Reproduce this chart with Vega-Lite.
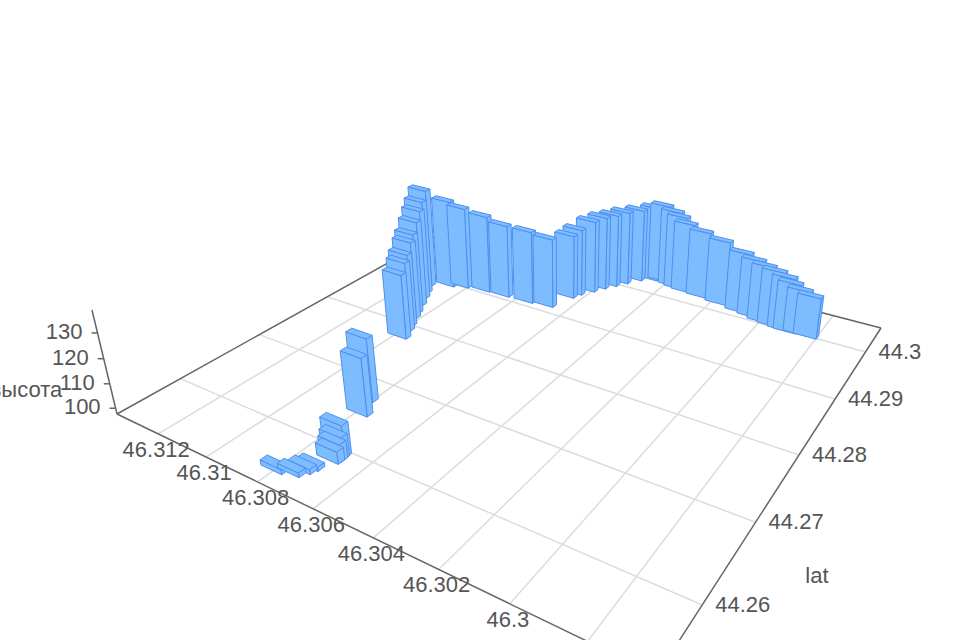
{
"$schema":"https://vega.github.io/schema/vega-lite/v6.json",
"width":960,"height":640,"padding":0,"autosize":{"type":"none"},"background":"white",
"config":{"view":{"stroke":null},"text":{"font":"Liberation Sans","fontSize":22,"fill":"#555555"}},
"datasets":{
"bars":[
{"bar":34,"lon":46.30475,"lat":44.30352,"height":131.9},
{"bar":35,"lon":46.3044,"lat":44.30391,"height":133.2},
{"bar":33,"lon":46.30523,"lat":44.30259,"height":130.9},
{"bar":36,"lon":46.30389,"lat":44.30336,"height":132.5},
{"bar":32,"lon":46.30555,"lat":44.30104,"height":131.2},
{"bar":37,"lon":46.3036,"lat":44.30304,"height":131.4},
{"bar":31,"lon":46.3058,"lat":44.2998,"height":130.9},
{"bar":38,"lon":46.30327,"lat":44.30278,"height":129.4},
{"bar":30,"lon":46.30604,"lat":44.29857,"height":131.0},
{"bar":39,"lon":46.30264,"lat":44.30256,"height":127.8},
{"bar":29,"lon":46.30626,"lat":44.29725,"height":130.4},
{"bar":28,"lon":46.30654,"lat":44.29583,"height":127.9},
{"bar":21,"lon":46.31084,"lat":44.28982,"height":137.5},
{"bar":22,"lon":46.31034,"lat":44.29048,"height":134.7},
{"bar":20,"lon":46.31158,"lat":44.28867,"height":142.1},
{"bar":40,"lon":46.30184,"lat":44.30215,"height":126.5},
{"bar":23,"lon":46.30949,"lat":44.29094,"height":132.7},
{"bar":27,"lon":46.30666,"lat":44.29472,"height":126.4},
{"bar":24,"lon":46.30867,"lat":44.29108,"height":130.6},
{"bar":41,"lon":46.301,"lat":44.30158,"height":124.4},
{"bar":19,"lon":46.31134,"lat":44.28705,"height":139.8},
{"bar":25,"lon":46.3077,"lat":44.29126,"height":130.3},
{"bar":42,"lon":46.3005,"lat":44.30121,"height":123.3},
{"bar":18,"lon":46.31114,"lat":44.28584,"height":137.9},
{"bar":26,"lon":46.30693,"lat":44.29165,"height":128.7},
{"bar":43,"lon":46.30007,"lat":44.30073,"height":122.7},
{"bar":44,"lon":46.29967,"lat":44.30046,"height":122.1},
{"bar":17,"lon":46.3109,"lat":44.28434,"height":135.7},
{"bar":45,"lon":46.29928,"lat":44.3002,"height":121.1},
{"bar":46,"lon":46.29906,"lat":44.30013,"height":119.3},
{"bar":47,"lon":46.29873,"lat":44.30028,"height":117.0},
{"bar":48,"lon":46.29837,"lat":44.30023,"height":115.6},
{"bar":16,"lon":46.31065,"lat":44.28273,"height":133.3},
{"bar":15,"lon":46.31049,"lat":44.28171,"height":131.8},
{"bar":14,"lon":46.31026,"lat":44.28019,"height":129.4},
{"bar":13,"lon":46.3101,"lat":44.27922,"height":127.9},
{"bar":12,"lon":46.30988,"lat":44.27777,"height":125.7},
{"bar":11,"lon":46.30831,"lat":44.26711,"height":123.6},
{"bar":10,"lon":46.30795,"lat":44.2651,"height":121.2},
{"bar":9,"lon":46.30715,"lat":44.25956,"height":110.2},
{"bar":8,"lon":46.30713,"lat":44.25925,"height":106.3},
{"bar":7,"lon":46.30711,"lat":44.25896,"height":104.4},
{"bar":6,"lon":46.30712,"lat":44.25862,"height":102.4},
{"bar":4,"lon":46.30736,"lat":44.25702,"height":99.2},
{"bar":3,"lon":46.30744,"lat":44.25637,"height":99.6},
{"bar":1,"lon":46.30808,"lat":44.25512,"height":99.6},
{"bar":2,"lon":46.3076,"lat":44.2556,"height":99.4}
],
"grid":[
{"lon0":46.312,"lat0":44.25301,"lon1":46.312,"lat1":44.30576},
{"lon0":46.31,"lat0":44.25301,"lon1":46.31,"lat1":44.30576},
{"lon0":46.308,"lat0":44.25301,"lon1":46.308,"lat1":44.30576},
{"lon0":46.306,"lat0":44.25301,"lon1":46.306,"lat1":44.30576},
{"lon0":46.304,"lat0":44.25301,"lon1":46.304,"lat1":44.30576},
{"lon0":46.302,"lat0":44.25301,"lon1":46.302,"lat1":44.30576},
{"lon0":46.3,"lat0":44.25301,"lon1":46.3,"lat1":44.30576},
{"lon0":46.298,"lat0":44.25301,"lon1":46.298,"lat1":44.30576},
{"lon0":46.31384,"lat0":44.26,"lon1":46.29636,"lat1":44.26},
{"lon0":46.31384,"lat0":44.27,"lon1":46.29636,"lat1":44.27},
{"lon0":46.31384,"lat0":44.28,"lon1":46.29636,"lat1":44.28},
{"lon0":46.31384,"lat0":44.29,"lon1":46.29636,"lat1":44.29},
{"lon0":46.31384,"lat0":44.3,"lon1":46.29636,"lat1":44.3}
],
"edges":[
{"lon0":46.31384,"lat0":44.25301,"h0":97.6,"lon1":46.29636,"lat1":44.25301,"h1":97.6},
{"lon0":46.29636,"lat0":44.25301,"h0":97.6,"lon1":46.29636,"lat1":44.30576,"h1":97.6},
{"lon0":46.29636,"lat0":44.30576,"h0":97.6,"lon1":46.31384,"lat1":44.30576,"h1":97.6},
{"lon0":46.31384,"lat0":44.30576,"h0":97.6,"lon1":46.31384,"lat1":44.25301,"h1":97.6},
{"lon0":46.31384,"lat0":44.25301,"h0":97.6,"lon1":46.31384,"lat1":44.25301,"h1":138.7}
]
},
"layer":[
{"data":{"name":"grid"},
 "transform":[
  {"calculate":"(46.31384-datum.lon0)/0.01748","as":"u0"},{"calculate":"(datum.lat0-44.25301)/0.05275","as":"v0"},
  {"calculate":"(46.31384-datum.lon1)/0.01748","as":"u1"},{"calculate":"(datum.lat1-44.25301)/0.05275","as":"v1"},
  {"calculate":"(344.1*datum.u0+561.2*datum.v0+117)/(1-0.2982*datum.u0+0.4586*datum.v0)","as":"x0"},
  {"calculate":"(59.7*datum.u0-93.1*datum.v0+414)/(1-0.2982*datum.u0+0.4586*datum.v0)","as":"y0"},
  {"calculate":"(344.1*datum.u1+561.2*datum.v1+117)/(1-0.2982*datum.u1+0.4586*datum.v1)","as":"x1"},
  {"calculate":"(59.7*datum.u1-93.1*datum.v1+414)/(1-0.2982*datum.u1+0.4586*datum.v1)","as":"y1"}],
 "mark":{"type":"rule","stroke":"#dcdcdc","strokeWidth":1.5,"clip":true},
 "encoding":{
  "x":{"field":"x0","type":"quantitative","scale":{"domain":[0,960],"nice":false,"zero":false},"axis":null},
  "y":{"field":"y0","type":"quantitative","scale":{"domain":[640,0],"nice":false,"zero":false},"axis":null},
  "x2":{"field":"x1"},"y2":{"field":"y1"}}},
{"data":{"name":"edges"},
 "transform":[
  {"calculate":"(46.31384-datum.lon0)/0.01748","as":"u0"},{"calculate":"(datum.lat0-44.25301)/0.05275","as":"v0"},{"calculate":"(datum.h0-97.6)/41.1","as":"z0"},
  {"calculate":"(46.31384-datum.lon1)/0.01748","as":"u1"},{"calculate":"(datum.lat1-44.25301)/0.05275","as":"v1"},{"calculate":"(datum.h1-97.6)/41.1","as":"z1"},
  {"calculate":"(344.1*datum.u0+561.2*datum.v0-29.9*datum.z0+117)/(1-0.2982*datum.u0+0.4586*datum.v0-0.0531*datum.z0)","as":"x0"},
  {"calculate":"(59.7*datum.u0-93.1*datum.v0-120.5*datum.z0+414)/(1-0.2982*datum.u0+0.4586*datum.v0-0.0531*datum.z0)","as":"y0"},
  {"calculate":"(344.1*datum.u1+561.2*datum.v1-29.9*datum.z1+117)/(1-0.2982*datum.u1+0.4586*datum.v1-0.0531*datum.z1)","as":"x1"},
  {"calculate":"(59.7*datum.u1-93.1*datum.v1-120.5*datum.z1+414)/(1-0.2982*datum.u1+0.4586*datum.v1-0.0531*datum.z1)","as":"y1"}],
 "mark":{"type":"rule","stroke":"#666666","strokeWidth":1.5,"clip":true},
 "encoding":{
  "x":{"field":"x0","type":"quantitative","scale":{"domain":[0,960],"nice":false,"zero":false},"axis":null},
  "y":{"field":"y0","type":"quantitative","scale":{"domain":[640,0],"nice":false,"zero":false},"axis":null},
  "x2":{"field":"x1"},"y2":{"field":"y1"}}},
{"data":{"name":"bars"},
 "transform":[
  {"calculate":"[0,1,2]","as":"faces"},{"flatten":["faces"],"as":["face"]},
  {"calculate":"[0,1,2,3,4]","as":"corners"},{"flatten":["corners"],"as":["corner"]},
  {"calculate":"datum.bar+'-'+datum.face","as":"key"},
  {"calculate":"[[1,1,1,1,1],[-1,1,1,-1,-1],[-1,1,1,-1,-1]][datum.face][datum.corner]","as":"su"},
  {"calculate":"[[-1,1,1,-1,-1],[-1,-1,-1,-1,-1],[-1,-1,1,1,-1]][datum.face][datum.corner]","as":"sv"},
  {"calculate":"[[0,0,1,1,0],[0,0,1,1,0],[1,1,1,1,1]][datum.face][datum.corner]","as":"sz"},
  {"calculate":"(46.31384-datum.lon)/0.01748+datum.su*0.0225","as":"u"},
  {"calculate":"(datum.lat-44.25301)/0.05275+datum.sv*0.0075","as":"v"},
  {"calculate":"datum.sz*(datum.height-97.6)/41.1","as":"z"},
  {"calculate":"1-0.2982*datum.u+0.4586*datum.v-0.0531*datum.z","as":"w"},
  {"calculate":"(344.1*datum.u+561.2*datum.v-29.9*datum.z+117)/datum.w","as":"sx"},
  {"calculate":"(59.7*datum.u-93.1*datum.v-120.5*datum.z+414)/datum.w","as":"sy"}],
 "mark":{"type":"line","fill":"#7dbcff","stroke":"#4f8fee","strokeWidth":1,"strokeJoin":"round","clip":true},
 "encoding":{
  "x":{"field":"sx","type":"quantitative","scale":{"domain":[0,960],"nice":false,"zero":false},"axis":null},
  "y":{"field":"sy","type":"quantitative","scale":{"domain":[640,0],"nice":false,"zero":false},"axis":null},
  "detail":{"field":"key","type":"nominal"},
  "order":{"field":"corner","type":"ordinal"}}},
{"data":{"values":[
  {"height":100},{"height":110},{"height":120},{"height":130}]},
 "transform":[
  {"calculate":"(datum.height-97.6)/41.1","as":"z"},
  {"calculate":"(117-29.9*datum.z)/(1-0.0531*datum.z)","as":"sx"},
  {"calculate":"(414-120.5*datum.z)/(1-0.0531*datum.z)","as":"sy"},
  {"calculate":"datum.sx-6","as":"sx2"}],
 "mark":{"type":"rule","stroke":"#666666","strokeWidth":1.5},
 "encoding":{
  "x":{"field":"sx","type":"quantitative","scale":{"domain":[0,960],"nice":false,"zero":false},"axis":null},
  "y":{"field":"sy","type":"quantitative","scale":{"domain":[640,0],"nice":false,"zero":false},"axis":null},
  "x2":{"field":"sx2"}}},
{"data":{"values":[
  {"height":100,"label":"100"},{"height":110,"label":"110"},{"height":120,"label":"120"},{"height":130,"label":"130"}]},
 "transform":[
  {"calculate":"(datum.height-97.6)/41.1","as":"z"},
  {"calculate":"(117-29.9*datum.z)/(1-0.0531*datum.z)","as":"sx"},
  {"calculate":"(414-120.5*datum.z)/(1-0.0531*datum.z)","as":"sy"}],
 "mark":{"type":"text","align":"right","baseline":"middle","dx":-15,"dy":-1},
 "encoding":{
  "x":{"field":"sx","type":"quantitative","scale":{"domain":[0,960],"nice":false,"zero":false},"axis":null},
  "y":{"field":"sy","type":"quantitative","scale":{"domain":[640,0],"nice":false,"zero":false},"axis":null},
  "text":{"field":"label","type":"nominal"}}},
{"data":{"values":[
  {"lon":46.312,"label":"46.312"},{"lon":46.31,"label":"46.31"},{"lon":46.308,"label":"46.308"},{"lon":46.306,"label":"46.306"},
  {"lon":46.304,"label":"46.304"},{"lon":46.302,"label":"46.302"},{"lon":46.3,"label":"46.3"}]},
 "transform":[
  {"calculate":"(46.31384-datum.lon)/0.01748","as":"u"},
  {"calculate":"(344.1*datum.u+117)/(1-0.2982*datum.u)","as":"sx"},
  {"calculate":"(59.7*datum.u+414)/(1-0.2982*datum.u)","as":"sy"}],
 "mark":{"type":"text","align":"center","baseline":"middle","dx":-2,"dy":16},
 "encoding":{
  "x":{"field":"sx","type":"quantitative","scale":{"domain":[0,960],"nice":false,"zero":false},"axis":null},
  "y":{"field":"sy","type":"quantitative","scale":{"domain":[640,0],"nice":false,"zero":false},"axis":null},
  "text":{"field":"label","type":"nominal"}}},
{"data":{"values":[
  {"lat":44.26,"label":"44.26"},{"lat":44.27,"label":"44.27"},{"lat":44.28,"label":"44.28"},{"lat":44.29,"label":"44.29"},{"lat":44.3,"label":"44.3"}]},
 "transform":[
  {"calculate":"(datum.lat-44.25301)/0.05275","as":"v"},
  {"calculate":"(344.1+561.2*datum.v+117)/(0.7018+0.4586*datum.v)","as":"sx"},
  {"calculate":"(59.7-93.1*datum.v+414)/(0.7018+0.4586*datum.v)","as":"sy"}],
 "mark":{"type":"text","align":"left","baseline":"middle","dx":13},
 "encoding":{
  "x":{"field":"sx","type":"quantitative","scale":{"domain":[0,960],"nice":false,"zero":false},"axis":null},
  "y":{"field":"sy","type":"quantitative","scale":{"domain":[640,0],"nice":false,"zero":false},"axis":null},
  "text":{"field":"label","type":"nominal"}}},
{"data":{"values":[{"lat":44.2655,"label":"lat"}]},
 "transform":[
  {"calculate":"(datum.lat-44.25301)/0.05275","as":"v"},
  {"calculate":"(344.1+561.2*datum.v+117)/(0.7018+0.4586*datum.v)","as":"sx"},
  {"calculate":"(59.7-93.1*datum.v+414)/(0.7018+0.4586*datum.v)","as":"sy"}],
 "mark":{"type":"text","align":"center","baseline":"middle","dx":84,"dy":19},
 "encoding":{
  "x":{"field":"sx","type":"quantitative","scale":{"domain":[0,960],"nice":false,"zero":false},"axis":null},
  "y":{"field":"sy","type":"quantitative","scale":{"domain":[640,0],"nice":false,"zero":false},"axis":null},
  "text":{"field":"label","type":"nominal"}}},
{"data":{"values":[{"height":107.5,"label":"высота"}]},
 "transform":[
  {"calculate":"(datum.height-97.6)/41.1","as":"z"},
  {"calculate":"(117-29.9*datum.z)/(1-0.0531*datum.z)","as":"sx"},
  {"calculate":"(414-120.5*datum.z)/(1-0.0531*datum.z)","as":"sy"}],
 "mark":{"type":"text","align":"right","baseline":"middle","dx":-49,"clip":true},
 "encoding":{
  "x":{"field":"sx","type":"quantitative","scale":{"domain":[0,960],"nice":false,"zero":false},"axis":null},
  "y":{"field":"sy","type":"quantitative","scale":{"domain":[640,0],"nice":false,"zero":false},"axis":null},
  "text":{"field":"label","type":"nominal"}}}
]
}
